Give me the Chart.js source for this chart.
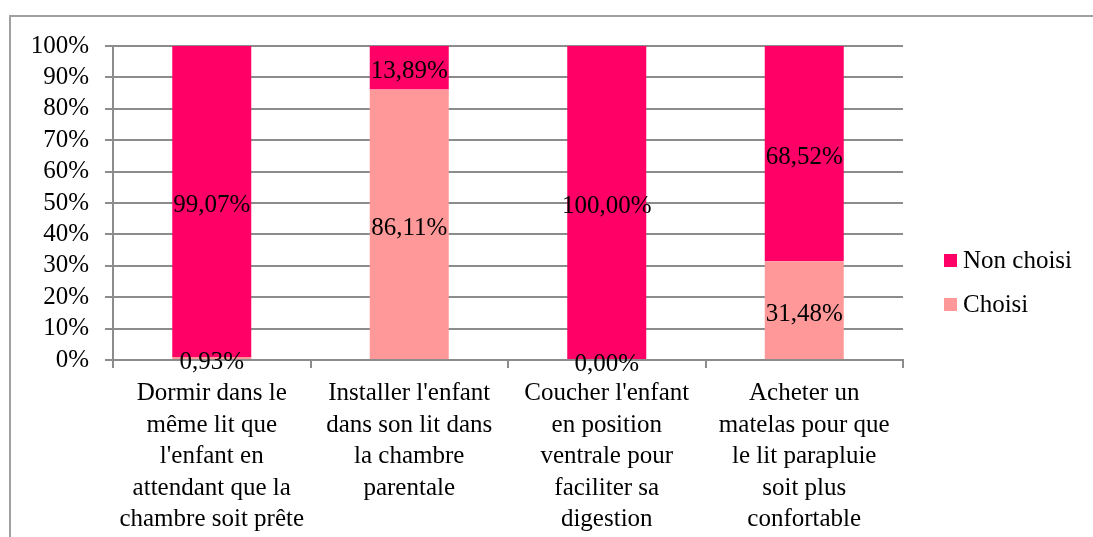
<!DOCTYPE html>
<html>
<head>
<meta charset="utf-8">
<script src="https://cdn.jsdelivr.net/npm/chart.js@4/dist/chart.umd.min.js"></script>
<style>
  html, body { margin: 0; padding: 0; background: #fff; }
  #wrap { width: 1093px; height: 537px; }
</style>
</head>
<body>
<div id="wrap"><canvas id="chart" width="1093" height="537"></canvas></div>
<script>
const categories = [
  ['Dormir dans le', 'même lit que', "l'enfant en", 'attendant que la', 'chambre soit prête'],
  ["Installer l'enfant", 'dans son lit dans', 'la chambre', 'parentale'],
  ["Coucher l'enfant", 'en position', 'ventrale pour', 'faciliter sa', 'digestion'],
  ['Acheter un', 'matelas pour que', 'le lit parapluie', 'soit plus', 'confortable']
];
const choisi = [0.93, 86.11, 0.00, 31.48];
const nonChoisi = [99.07, 13.89, 100.00, 68.52];
const yTicks = [0, 10, 20, 30, 40, 50, 60, 70, 80, 90, 100];

const FONT = "'Liberation Serif', 'Times New Roman', serif";
const GRID = '#8c8c8c';
const SIZE = 25;

const fmt = v => v.toFixed(2).replace('.', ',') + '%';

// frame around the chart (only left and top visible)
const framePlugin = {
  id: 'frame',
  beforeDraw(chart) {
    const c = chart.ctx;
    c.save();
    c.strokeStyle = '#a0a0a0';
    c.lineWidth = 2;
    c.beginPath();
    c.moveTo(10, 537);
    c.lineTo(10, 16);
    c.lineTo(1093, 16);
    c.stroke();
    c.restore();
  }
};

// values written in the middle of each segment
const labelPlugin = {
  id: 'segLabels',
  afterDatasetsDraw(chart) {
    const c = chart.ctx;
    c.save();
    c.font = SIZE + 'px ' + FONT;
    c.fillStyle = '#000';
    c.textAlign = 'center';
    c.textBaseline = 'middle';
    chart.data.datasets.forEach((ds, i) => {
      chart.getDatasetMeta(i).data.forEach((bar, j) => {
        const mid = (bar.y + bar.base) / 2;
        c.fillText(fmt(ds.data[j]), bar.x, mid + 4);
      });
    });
    c.restore();
  }
};

// legend on the right, Non choisi on top
const legendPlugin = {
  id: 'sideLegend',
  afterDraw(chart) {
    const c = chart.ctx;
    const items = chart.data.datasets.slice().reverse();
    c.save();
    c.font = SIZE + 'px ' + FONT;
    c.textBaseline = 'middle';
    items.forEach((ds, i) => {
      const y = 260 + i * 44;
      c.fillStyle = ds.backgroundColor;
      c.fillRect(944, y - 6, 13, 13);
      c.fillStyle = '#000';
      c.fillText(ds.label, 963, y + 1);
    });
    c.restore();
  }
};

new Chart(document.getElementById('chart'), {
  type: 'bar',
  data: {
    labels: categories,
    datasets: [
      { label: 'Choisi', data: choisi, backgroundColor: '#ff9999', barPercentage: 0.8, categoryPercentage: 0.5 },
      { label: 'Non choisi', data: nonChoisi, backgroundColor: '#ff0066', barPercentage: 0.8, categoryPercentage: 0.5 }
    ]
  },
  options: {
    responsive: false,
    animation: false,
    devicePixelRatio: 1,
    layout: { padding: { top: 46, right: 190, left: 0, bottom: 0 } },
    plugins: {
      legend: { display: false },
      tooltip: { enabled: false }
    },
    scales: {
      x: {
        stacked: true,
        grid: { display: true, drawOnChartArea: false, offset: true, color: GRID, lineWidth: 2, tickLength: 8 },
        border: { color: GRID, width: 2 },
        ticks: {
          color: '#000',
          font: { family: FONT, size: SIZE, lineHeight: 1.26 },
          maxRotation: 0,
          autoSkip: false,
          padding: 10
        },
        afterFit(scale) { scale.height = 177; }
      },
      y: {
        stacked: true,
        min: 0,
        max: 100,
        afterBuildTicks(scale) { scale.ticks = yTicks.map(v => ({ value: v })); },
        grid: { color: GRID, lineWidth: 2, tickLength: 8 },
        border: { color: GRID, width: 2 },
        ticks: {
          color: '#000',
          font: { family: FONT, size: SIZE },
          padding: 16,
          autoSkip: false,
          callback: v => v + '%'
        },
        afterFit(scale) { scale.width = 113; }
      }
    }
  },
  plugins: [framePlugin, labelPlugin, legendPlugin]
});
</script>
</body>
</html>
